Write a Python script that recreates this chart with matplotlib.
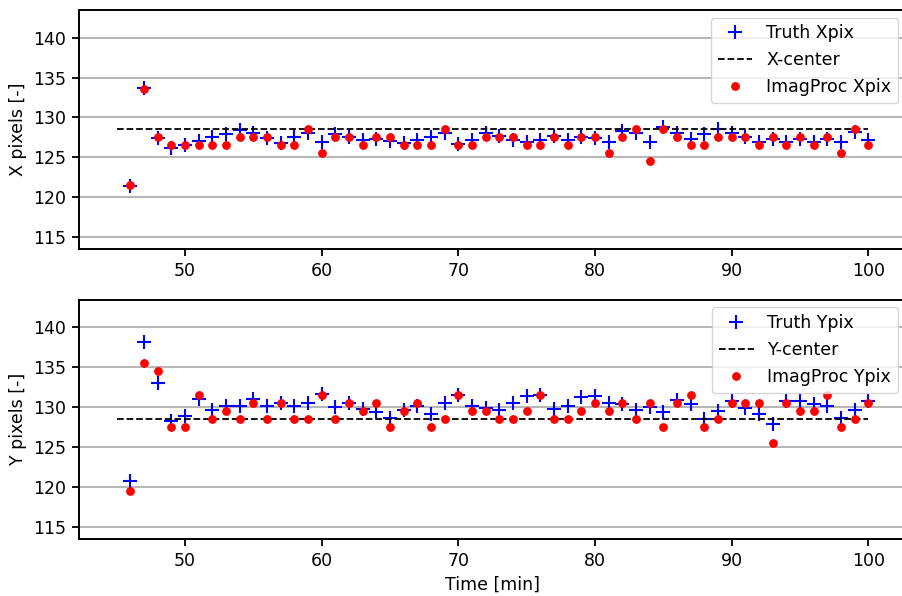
import matplotlib
matplotlib.use("Agg")
import matplotlib.pyplot as plt

time_min = list(range(46, 101))

truth_x = [121.4, 133.7, 127.4, 126.2, 126.6, 127.0, 127.5, 127.9, 128.4, 128.0,
           127.4, 126.8, 127.5, 128.0, 126.9, 127.9, 127.6, 127.2, 127.3, 127.1,
           126.8, 127.2, 127.6, 128.1, 126.7, 127.2, 128.0, 127.7, 127.2, 126.9,
           127.2, 127.7, 127.2, 127.6, 127.4, 126.9, 128.3, 128.1, 126.9, 128.8,
           128.1, 127.3, 127.9, 128.5, 128.1, 127.5, 126.9, 127.3, 126.9, 127.3,
           126.9, 127.3, 126.9, 128.2, 127.2]

imgproc_x = [121.5, 133.5, 127.5, 126.5, 126.5, 126.5, 126.5, 126.5, 127.5, 127.5,
             127.5, 126.5, 126.5, 128.5, 125.5, 127.5, 127.5, 126.5, 127.5, 127.5,
             126.5, 126.5, 126.5, 128.5, 126.5, 126.5, 127.5, 127.5, 127.5, 126.5,
             126.5, 127.5, 126.5, 127.5, 127.5, 125.5, 127.5, 128.5, 124.5, 128.5,
             127.5, 126.5, 126.5, 127.5, 127.5, 127.5, 126.5, 127.5, 126.5, 127.5,
             126.5, 127.5, 125.5, 128.5, 126.5]

truth_y = [120.8, 138.2, 133.0, 128.3, 128.9, 131.0, 129.7, 130.1, 130.2, 131.0,
           130.2, 130.5, 130.1, 130.5, 131.7, 130.0, 130.5, 129.8, 129.4, 128.6,
           129.7, 130.1, 129.1, 130.5, 131.6, 130.2, 129.9, 129.7, 130.5, 131.4,
           131.6, 129.8, 130.2, 131.3, 131.4, 130.5, 130.4, 129.6, 130.0, 129.4,
           130.9, 130.4, 128.5, 129.5, 130.8, 129.9, 129.1, 127.9, 130.8, 130.8,
           130.4, 130.2, 128.6, 129.6, 130.8]

imgproc_y = [119.5, 135.5, 134.5, 127.5, 127.5, 131.5, 128.5, 129.5, 128.5, 130.5,
             128.5, 130.5, 128.5, 128.5, 131.5, 128.5, 130.5, 129.5, 130.5, 127.5,
             129.5, 130.5, 127.5, 128.5, 131.5, 129.5, 129.5, 128.5, 128.5, 129.5,
             131.5, 128.5, 128.5, 129.5, 130.5, 129.5, 130.5, 128.5, 130.5, 127.5,
             130.5, 131.5, 127.5, 128.5, 130.5, 130.5, 130.5, 125.5, 130.5, 129.5,
             129.5, 131.5, 127.5, 128.5, 130.5]

center_x_range = [45, 100]
x_center = 128.5
y_center = 128.5

plt.rcParams.update({
    "font.family": "DejaVu Sans",
    "font.size": 12.5,
    "axes.labelsize": 12.5,
    "xtick.labelsize": 12.5,
    "ytick.labelsize": 12.5,
    "legend.fontsize": 12.5,
    "axes.linewidth": 1.4,
    "xtick.major.size": 5,
    "ytick.major.size": 5,
    "xtick.major.width": 1.3,
    "ytick.major.width": 1.3,
    "xtick.major.pad": 4.5,
    "ytick.major.pad": 4.5,
    "grid.color": "#b0b0b0",
    "grid.linewidth": 1.3,
})

fig = plt.figure(figsize=(9.02, 5.96), dpi=100)
ax1 = fig.add_axes([79 / 902, (596 - 249) / 596, 827 / 902, 239.3 / 596])
ax2 = fig.add_axes([79 / 902, (596 - 539) / 596, 827 / 902, 239.5 / 596])

panels = [
    (ax1, truth_x, imgproc_x, x_center, "Truth Xpix", "X-center", "ImagProc Xpix", "X pixels [-]"),
    (ax2, truth_y, imgproc_y, y_center, "Truth Ypix", "Y-center", "ImagProc Ypix", "Y pixels [-]"),
]

for ax, truth, proc, center, l1, l2, l3, ylab in panels:
    ax.plot(time_min, truth, linestyle="none", marker="+", color="blue",
            markersize=9.5, markeredgewidth=1.5, label=l1)
    ax.plot(center_x_range, [center, center], "k--", linewidth=1.3, label=l2)
    ax.plot(time_min, proc, linestyle="none", marker="o", color="red",
            markersize=5.3, label=l3)
    ax.set_xlim(42.25, 102.75)
    ax.set_ylim(113.5, 143.5)
    ax.set_yticks([115, 120, 125, 130, 135, 140])
    ax.set_xticks([50, 60, 70, 80, 90, 100])
    ax.yaxis.grid(True)
    ax.set_axisbelow(True)
    ax.spines["right"].set_visible(False)
    ax.set_ylabel(ylab)
    ax.legend(loc="upper right", numpoints=1, borderaxespad=0.45)

ax2.set_xlabel("Time [min]")

fig.savefig("out.png", dpi=100)
